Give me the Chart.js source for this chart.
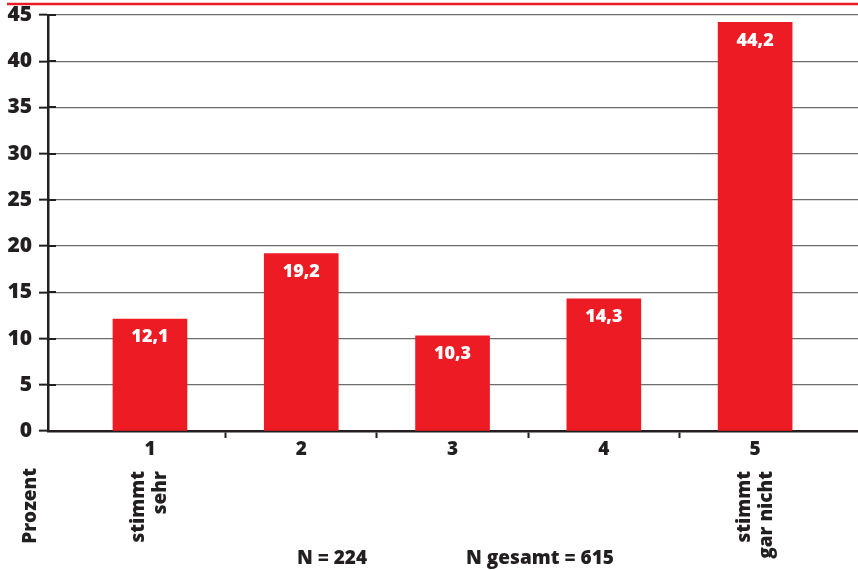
<!DOCTYPE html>
<html>
<head>
<meta charset="utf-8">
<script src="https://cdn.jsdelivr.net/npm/chart.js@4.4.1/dist/chart.umd.min.js"></script>
<style>
  html, body { margin: 0; padding: 0; background: #fff; }
  #wrap { width: 858px; height: 570px; }
</style>
</head>
<body>
<div id="wrap"><canvas id="chart" width="858" height="570"></canvas></div>
<script>
// Antwortstufen 1..5 und Anteile in Prozent
var categories = [1, 2, 3, 4, 5];
var shares = [12.1, 19.2, 10.3, 14.3, 44.2];
var yTicks = [0, 5, 10, 15, 20, 25, 30, 35, 40, 45];
var scaleNotes = [["stimmt", "sehr"], [], [], [], ["stimmt", "gar nicht"]];
var axisTitle = "Prozent";
var footNotes = ["N = 224", "N gesamt = 615"];

var RED = "#ed1c24";
var INK = "#231f20";
var FONT = "'Open Sans', 'Noto Sans', sans-serif";

function fmt(v) {
    return v.toFixed(1).replace(".", ",");
}

// Werte-Beschriftung in den Balken + Zusatztexte unter der Achse
var extrasPlugin = {
    id: "extras",
    afterDraw: function(chart) {
        var ctx = chart.ctx;
        var x = chart.scales.x;
        var y = chart.scales.y;
        var area = chart.chartArea;

        ctx.save();

        // rote Linie ganz oben
        ctx.strokeStyle = RED;
        ctx.lineWidth = 2.5;
        ctx.beginPath();
        ctx.moveTo(7, 4);
        ctx.lineTo(858, 4);
        ctx.stroke();

        // kurze Striche der y-Achse nach innen
        ctx.strokeStyle = INK;
        ctx.lineWidth = 2;
        y.ticks.forEach(function(t) {
            var py = Math.round(y.getPixelForValue(t.value));
            ctx.beginPath();
            ctx.moveTo(area.left, py);
            ctx.lineTo(area.left + 8, py);
            ctx.stroke();
        });

        // Werte in den Balken
        ctx.fillStyle = "#fff";
        ctx.font = "800 18px " + FONT;
        ctx.textAlign = "center";
        ctx.textBaseline = "middle";
        var meta = chart.getDatasetMeta(0);
        meta.data.forEach(function(bar, i) {
            ctx.fillText(fmt(shares[i]), bar.x, bar.y + 18);
        });

        // gedrehte Texte
        ctx.fillStyle = INK;
        ctx.font = "800 19px " + FONT;
        ctx.textAlign = "right";
        ctx.textBaseline = "middle";
        function rotated(lines, cx, top) {
            lines.forEach(function(line, k) {
                var off = (k - (lines.length - 1) / 2) * 22;
                ctx.save();
                ctx.translate(cx + off, top);
                ctx.rotate(-Math.PI / 2);
                ctx.fillText(line, 0, 0);
                ctx.restore();
            });
        }
        rotated([axisTitle], 31, 468);
        categories.forEach(function(c, i) {
            if (scaleNotes[i].length) {
                rotated(scaleNotes[i], x.getPixelForValue(c), 471);
            }
        });

        // Fallzahlen
        ctx.textAlign = "center";
        ctx.textBaseline = "alphabetic";
        ctx.fillText(footNotes[0], 332, 564);
        ctx.fillText(footNotes[1], 540, 564);

        ctx.restore();
    }
};

function createChart() {
    var ctx = document.getElementById("chart").getContext("2d");

    var points = categories.map(function(c, i) {
        return { x: c, y: shares[i] };
    });

    new Chart(ctx, {
        type: "bar",
        data: {
            datasets: [{
                data: points,
                backgroundColor: RED,
                borderWidth: 0,
                barThickness: 74
            }]
        },
        options: {
            responsive: false,
            devicePixelRatio: 1,
            animation: false,
            layout: { padding: { top: 15, right: 0, left: 0, bottom: 0 } },
            plugins: {
                legend: { display: false },
                tooltip: { enabled: false }
            },
            scales: {
                x: {
                    type: "linear",
                    offset: false,
                    min: 0.326,
                    max: 5.68,
                    afterBuildTicks: function(scale) {
                        var t = [];
                        for (var v = 1; v <= 5; v += 0.5) t.push({ value: v });
                        scale.ticks = t;
                    },
                    afterFit: function(scale) {
                        scale.height = 139;
                        scale.paddingLeft = 0;
                        scale.paddingRight = 0;
                    },
                    ticks: {
                        autoSkip: false,
                        maxRotation: 0,
                        padding: 0,
                        color: INK,
                        font: { family: FONT, size: 19, weight: 800 },
                        callback: function(v) { return v % 1 === 0 ? String(v) : ""; }
                    },
                    grid: {
                        offset: false,
                        drawOnChartArea: false,
                        tickLength: 7,
                        tickWidth: 2,
                        tickColor: function(c) {
                            return c.tick && c.tick.value % 1 !== 0 ? INK : "rgba(0,0,0,0)";
                        }
                    },
                    border: { color: INK, width: 2.5 }
                },
                y: {
                    min: 0,
                    max: 45,
                    afterBuildTicks: function(scale) {
                        scale.ticks = yTicks.map(function(v) { return { value: v }; });
                    },
                    afterFit: function(scale) {
                        scale.width = 48;
                        scale.paddingTop = 0;
                        scale.paddingBottom = 0;
                    },
                    ticks: {
                        padding: 7,
                        color: INK,
                        font: { family: FONT, size: 21, weight: 800 }
                    },
                    grid: {
                        color: "#6d6d6d",
                        lineWidth: 1.3,
                        tickLength: 9,
                        tickWidth: 2,
                        tickColor: INK
                    },
                    border: { color: INK, width: 2.5 }
                }
            }
        },
        plugins: [extrasPlugin]
    });
}

createChart();
</script>
</body>
</html>
